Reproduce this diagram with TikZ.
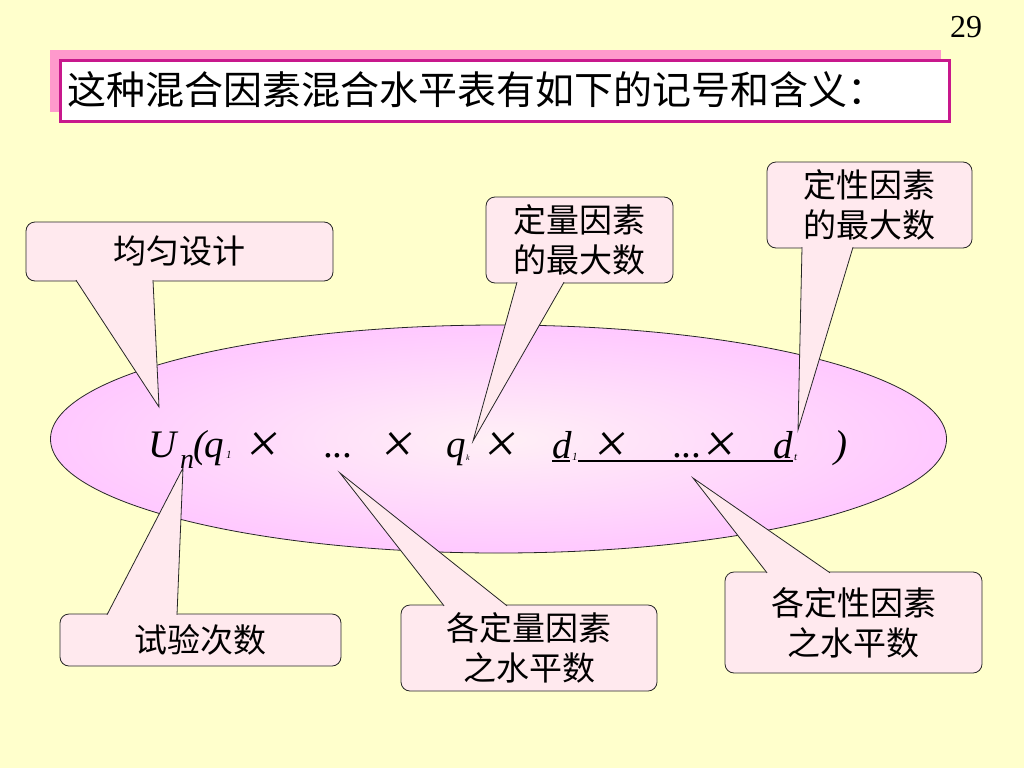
\documentclass[tikz,border=0pt]{standalone}
\usepackage{fontspec}
\setmainfont{Liberation Serif}
\newfontfamily\cjk{Noto Sans CJK SC}
\usetikzlibrary{shapes.geometric}
\definecolor{bgyellow}{HTML}{FFFFCC}
\definecolor{shadowpink}{HTML}{FF99CC}
\definecolor{titleborder}{HTML}{C8188C}
\definecolor{cfill}{HTML}{FFE9EE}
\definecolor{ovalout}{HTML}{FFC8FF}
\definecolor{ovalin}{HTML}{FFF0F6}
\tikzset{
  cbox/.style={draw=black!85, fill=cfill, rounded corners=9pt, line width=0.8pt,
    inner sep=0pt, align=center, font=\cjk\fontsize{33}{40}\selectfont},
  ctail/.style={draw=black!85, fill=cfill, line width=0.8pt, line join=miter},
  fml/.style={inner sep=0pt, anchor=base west, font=\fontsize{39}{42}\selectfont\itshape},
  fsub/.style={inner sep=0pt, anchor=base west, font=\fontsize{11}{12}\selectfont\itshape},
  fcross/.style={inner sep=0pt, anchor=center, xslant=0.15, transform shape,
    font=\fontsize{56}{60}\selectfont},
}
\begin{document}
\begin{tikzpicture}[x=1pt,y=-1pt]
\useasboundingbox (0,0) rectangle (1024,768);
\fill[bgyellow] (0,0) rectangle (1024,768);

% page number
\node[inner sep=0pt, font=\fontsize{32}{36}\selectfont] (pagenum) at (966,27) {29};

% title
\fill[shadowpink] (50,50) rectangle (941,112);
\node[draw=titleborder, line width=2.6pt, fill=white, minimum width=889pt, minimum height=61pt,
  anchor=north west, inner sep=0pt] (titlebox) at (59,59) {};
\node[anchor=west, inner sep=0pt, font=\cjk\fontsize{39}{44}\selectfont] (titletext) at (67,90)
  {这种混合因素混合水平表有如下的记号和含义：};

% oval
\node[ellipse, draw=black!85, line width=0.8pt, inner color=ovalin, outer color=ovalout,
  minimum width=896pt, minimum height=228pt, inner sep=0pt] (oval) at (498.5,439) {};

% formula
\node[fml] (fU) at (148,457) {U};
\node[inner sep=0pt, anchor=base west, font=\fontsize{28}{30}\selectfont\itshape] (fn) at (180,468) {n};
\node[fml] (fpar) at (193,457) {(};
\node[fml] (fq1) at (204,457) {q};
\node[fsub] (fq1s) at (226,458) {1};
\node[fcross] (x1) at (264,447) {×};
\node[fml] (dots1) at (324,457) {...};
\node[fcross] (x2) at (399,447) {×};
\node[fml] (fqk) at (446,457) {q};
\node[inner sep=0pt, anchor=base west, font=\fontsize{8}{10}\selectfont\itshape] (fqks) at (466,460) {k};
\node[fcross] (x3) at (502,447) {×};
\node[fml] (fd1) at (552,458) {d};
\node[fsub] (fd1s) at (572,460) {1};
\node[fcross] (x4) at (612,447) {×};
\node[fml] (dots2) at (673,457) {...};
\node[fcross] (x5) at (721,447) {×};
\node[fml] (fdt) at (773,458) {d};
\node[fsub] (fdts) at (794,460) {t};
\node[fml] (fclose) at (834,457) {)};
\coordinate (ulA) at (552,461);
\coordinate (ulB) at (570,461);
\coordinate (ulC) at (578,461);
\coordinate (ulD) at (793,461);
\draw[line width=1.4pt] (ulA) -- (ulB) (ulC) -- (ulD);

% callout 1
\node[cbox, minimum width=307pt, minimum height=59pt] (c1) at (179.5,251.5) {均匀设计};
\coordinate (c1a) at (76,280.2); \coordinate (c1b) at (153,280.2); \coordinate (c1t) at (159,407);
\path[ctail] (c1a) -- (c1t) -- (c1b);

% callout 2
\node[cbox, minimum width=187pt, minimum height=86pt] (c2) at (579.5,240) {定量因素\\的最大数};
\coordinate (c2a) at (517,282.2); \coordinate (c2b) at (564,282.2); \coordinate (c2t) at (473,441);
\path[ctail] (c2a) -- (c2t) -- (c2b);

% callout 3
\node[cbox, minimum width=205pt, minimum height=86pt] (c3) at (869.5,205) {定性因素\\的最大数};
\coordinate (c3a) at (802,247.2); \coordinate (c3b) at (853,247.2); \coordinate (c3t) at (798,430);
\path[ctail] (c3a) -- (c3t) -- (c3b);

% callout 4
\node[cbox, minimum width=281pt, minimum height=52pt] (c4) at (200.5,640) {试验次数};
\coordinate (c4a) at (107,614.8); \coordinate (c4b) at (177,614.8); \coordinate (c4t) at (183,468);
\path[ctail] (c4a) -- (c4t) -- (c4b);

% callout 5
\node[cbox, minimum width=256pt, minimum height=86pt] (c5) at (529,648) {各定量因素\\之水平数};
\coordinate (c5a) at (444,605.8); \coordinate (c5b) at (507,605.8); \coordinate (c5t) at (340,473);
\path[ctail] (c5a) -- (c5t) -- (c5b);

% callout 6
\node[cbox, minimum width=257pt, minimum height=101pt] (c6) at (853.5,622.5) {各定性因素\\之水平数};
\coordinate (c6a) at (767,572.8); \coordinate (c6b) at (830,572.8); \coordinate (c6t) at (693,478);
\path[ctail] (c6a) -- (c6t) -- (c6b);
\end{tikzpicture}
\end{document}
